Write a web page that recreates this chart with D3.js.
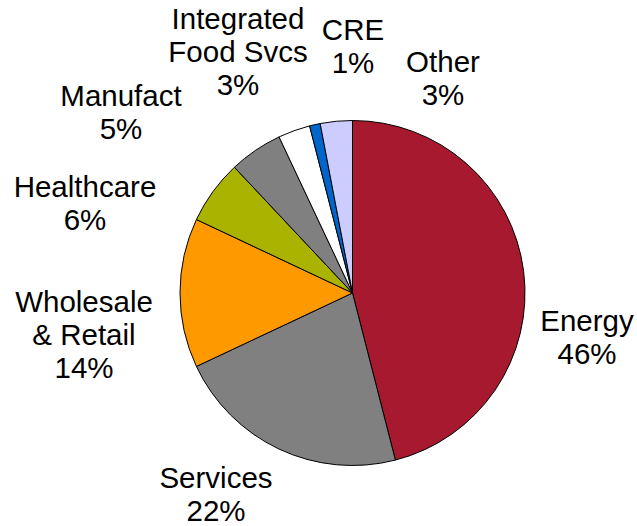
<!DOCTYPE html>
<html>
<head>
<meta charset="utf-8">
<script src="https://cdn.jsdelivr.net/npm/d3@7"></script>
<style>
  body { margin: 0; background: #fff; }
  svg { display: block; }
  .lbl { font-family: "Liberation Sans", Arial, sans-serif; font-size: 29.5px; fill: #000; }
</style>
</head>
<body>
<svg id="chart" width="637" height="526"></svg>
<script>
// Data
const categories = ["Energy", "Services", "Wholesale & Retail", "Healthcare", "Manufact", "Integrated Food Svcs", "CRE", "Other"];
const shares = [46, 22, 14, 6, 5, 3, 1, 3];
const colors = ["#A6192E", "#808080", "#FF9900", "#A9B300", "#808080", "#FFFFFF", "#0066CC", "#CCCCFF"];

// label lines and placement (center x, first baseline)
const labelLines = {
  "Energy": ["Energy"],
  "Services": ["Services"],
  "Wholesale & Retail": ["Wholesale", "& Retail"],
  "Healthcare": ["Healthcare"],
  "Manufact": ["Manufact"],
  "Integrated Food Svcs": ["Integrated", "Food Svcs"],
  "CRE": ["CRE"],
  "Other": ["Other"]
};
const labelPos = {
  "Energy": [587, 331],
  "Services": [216, 488],
  "Wholesale & Retail": [84, 312],
  "Healthcare": [85, 197],
  "Manufact": [121, 106],
  "Integrated Food Svcs": [238, 29],
  "CRE": [353, 40],
  "Other": [443, 72]
};
const lineH = 33;

const cx = 352.5, cy = 293, radius = 172.5;

const svg = d3.select("#chart");

const pie = d3.pie().sort(null).value(d => d.value);
const arc = d3.arc().innerRadius(0).outerRadius(radius);

const data = categories.map((c, i) => ({ name: c, value: shares[i], color: colors[i] }));

const g = svg.append("g").attr("transform", `translate(${cx},${cy})`);

g.selectAll("path")
  .data(pie(data))
  .enter()
  .append("path")
    .attr("d", arc)
    .attr("fill", d => d.data.color)
    .attr("stroke", "#000")
    .attr("stroke-width", 1)
    .attr("stroke-linejoin", "round");

// labels
const labels = svg.selectAll(".lbl")
  .data(data)
  .enter()
  .append("text")
    .attr("class", "lbl")
    .attr("text-anchor", "middle");

labels.each(function(d) {
  const t = d3.select(this);
  const [x, y] = labelPos[d.name];
  const lines = labelLines[d.name].concat([d.value + "%"]);
  lines.forEach((ln, i) => {
    t.append("tspan")
      .attr("x", x)
      .attr("y", y + i * lineH)
      .text(ln);
  });
});
</script>
</body>
</html>
